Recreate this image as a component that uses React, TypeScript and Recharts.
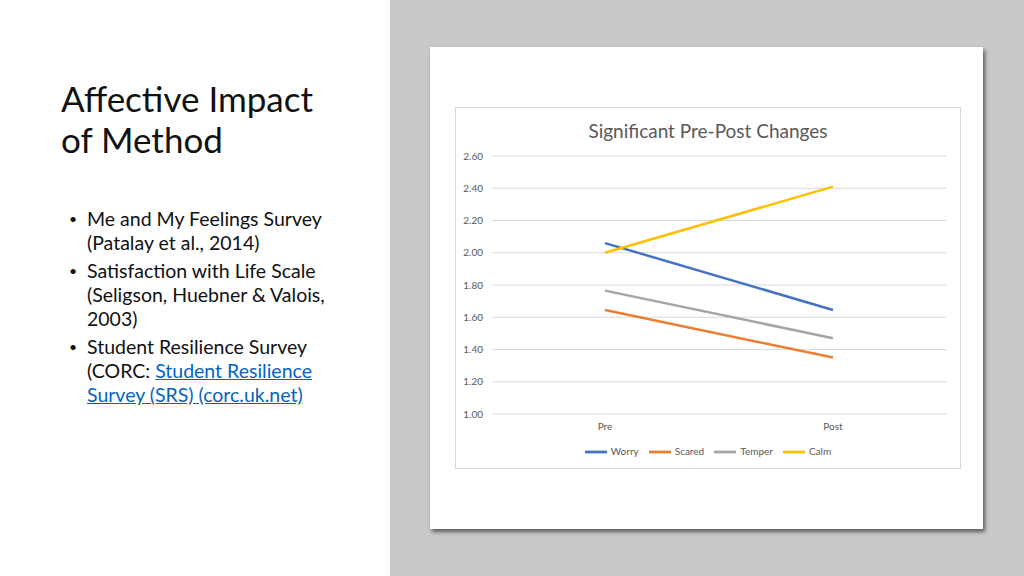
import { LineChart, Line, XAxis, YAxis, CartesianGrid, Legend } from "recharts";

const phases = ["Pre", "Post"];
const worry = [2.06, 1.645];
const scared = [1.645, 1.35];
const temper = [1.765, 1.47];
const calm = [2.0, 2.41];
const yTicks = [1.0, 1.2, 1.4, 1.6, 1.8, 2.0, 2.2, 2.4, 2.6];

const seriesList = [
  { key: "Worry", values: worry, color: "#4472C4" },
  { key: "Scared", values: scared, color: "#ED7D31" },
  { key: "Temper", values: temper, color: "#A5A5A5" },
  { key: "Calm", values: calm, color: "#FFC000" },
];
const seriesOrder = seriesList.map((s) => s.key);

const chartData = phases.map((name, i) => {
  const row: Record<string, string | number> = { name };
  seriesList.forEach((s) => {
    row[s.key] = s.values[i];
  });
  return row;
});

const FONT = "Lato, 'Open Sans', sans-serif";

export default function App() {
  return (
    <div
      style={{
        position: "fixed",
        left: 0,
        top: 0,
        width: 1024,
        height: 576,
        background: "#ffffff",
        fontFamily: FONT,
        overflow: "hidden",
      }}
    >
      {/* left text panel */}
      <div
        style={{
          position: "absolute",
          left: 61,
          top: 78,
          fontSize: 35,
          lineHeight: "41px",
          color: "#111",
        }}
      >
        Affective Impact
        <br />
        of Method
      </div>
      <ul
        style={{
          position: "absolute",
          left: 62,
          top: 207,
          margin: 0,
          padding: 0,
          listStyle: "none",
          fontSize: 19.5,
          lineHeight: "24px",
          color: "#111",
          width: 320,
        }}
      >
        {[
          <>Me and My Feelings Survey<br />(Patalay et al., 2014)</>,
          <>Satisfaction with Life Scale<br />(Seligson, Huebner &amp; Valois,<br />2003)</>,
          <>
            Student Resilience Survey<br />(CORC:{" "}
            <span style={{ color: "#0563C1", textDecoration: "underline" }}>Student Resilience</span>
            <br />
            <span style={{ color: "#0563C1", textDecoration: "underline" }}>Survey (SRS) (corc.uk.net)</span>
          </>,
        ].map((content, i) => (
          <li key={i} style={{ position: "relative", paddingLeft: 25, marginBottom: 4, whiteSpace: "nowrap" }}>
            <span style={{ position: "absolute", left: 7, top: 0, fontSize: 14 }}>•</span>
            {content}
          </li>
        ))}
      </ul>

      {/* right gray panel */}
      <div
        style={{
          position: "absolute",
          left: 390,
          top: 0,
          width: 634,
          height: 576,
          background: "#c9c9c9",
        }}
      />
      <div
        style={{
          position: "absolute",
          left: 430,
          top: 47,
          width: 553,
          height: 482,
          background: "#ffffff",
          boxShadow: "2px 3px 4px rgba(0,0,0,0.55)",
        }}
      />
      <div
        style={{
          position: "absolute",
          left: 455,
          top: 107,
          width: 504,
          height: 360,
          border: "1px solid #d9d9d9",
          background: "#ffffff",
        }}
      >
        <div
          style={{
            position: "absolute",
            left: 0,
            top: 11,
            width: "100%",
            textAlign: "center",
            fontSize: 19,
            color: "#595959",
          }}
        >
          Significant Pre-Post Changes
        </div>
        <LineChart
          width={504}
          height={360}
          data={chartData}
          margin={{ top: 48, right: 14, left: 0, bottom: 3 }}
        >
          <CartesianGrid vertical={false} stroke="#d9d9d9" />
          <XAxis
            dataKey="name"
            axisLine={false}
            tickLine={false}
            tickSize={0}
            tickMargin={9}
            height={27}
            padding={{ left: 113, right: 113 }}
            tick={{ fontSize: 10, fill: "#595959", fontFamily: FONT }}
          />
          <YAxis
            domain={[1, 2.6]}
            ticks={yTicks}
            axisLine={false}
            tickLine={false}
            tickSize={0}
            tickMargin={9}
            width={36}
            tickFormatter={(v: number) => v.toFixed(2)}
            tick={{ fontSize: 10, fill: "#595959", fontFamily: FONT }}
          />
          <Legend
            verticalAlign="bottom"
            height={24}
            iconType="plainline"
            iconSize={22}
            itemSorter={(item: any) => seriesOrder.indexOf(String(item.value))}
            wrapperStyle={{ fontSize: 10, fontFamily: FONT, paddingLeft: 12 }}
            formatter={(value: string) => <span style={{ color: "#595959" }}>{value}</span>}
          />
          {seriesList.map((s) => (
            <Line
              key={s.key}
              dataKey={s.key}
              stroke={s.color}
              strokeWidth={2.5}
              dot={false}
              isAnimationActive={false}
            />
          ))}
        </LineChart>
      </div>
    </div>
  );
}
